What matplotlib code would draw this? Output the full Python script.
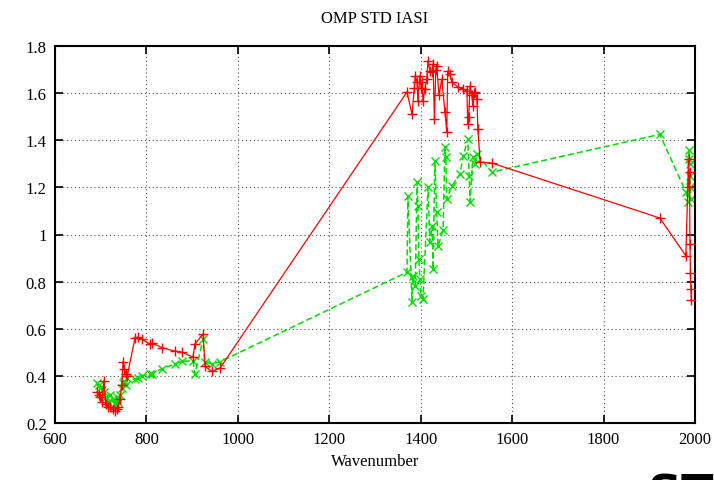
import matplotlib
matplotlib.use("Agg")
import matplotlib.pyplot as plt

# ---- data ----
red_wn = [692, 696, 699, 703, 707, 711, 716, 721, 727, 731, 735, 738, 742, 746, 749, 752, 755, 758,
          775, 782, 790, 808, 812, 834, 862, 878, 902, 906, 924, 928, 943, 961,
          1370, 1381, 1386, 1388, 1392, 1394, 1398, 1401, 1403, 1405, 1409, 1413, 1416, 1420, 1425,
          1427, 1430, 1433, 1435, 1440, 1446, 1453, 1457, 1459, 1464, 1468, 1481, 1493, 1501, 1503,
          1505, 1508, 1512, 1514, 1516, 1519, 1523, 1525, 1530, 1556,
          1923, 1980, 1986, 1987, 1988, 1989, 1990, 1991, 1992]
red_std = [0.33, 0.32, 0.31, 0.29, 0.38, 0.28, 0.27, 0.27, 0.26, 0.25, 0.26, 0.27, 0.30, 0.36, 0.46, 0.43, 0.41, 0.40,
           0.56, 0.565, 0.555, 0.535, 0.54, 0.52, 0.505, 0.50, 0.48, 0.535, 0.578, 0.44, 0.42, 0.433,
           1.605, 1.51, 1.62, 1.673, 1.647, 1.566, 1.673, 1.62, 1.647, 1.566, 1.617, 1.66, 1.737, 1.694, 1.69,
           1.724, 1.49, 1.70, 1.717, 1.59, 1.66, 1.52, 1.435, 1.694, 1.68, 1.647, 1.626, 1.617, 1.61, 1.47,
           1.50, 1.63, 1.59, 1.545, 1.60, 1.605, 1.575, 1.448, 1.307, 1.303,
           1.07, 0.91, 1.32, 1.20, 1.265, 0.96, 0.836, 0.77, 0.72]

green_wn = [692, 696, 699, 703, 707, 711, 716, 721, 727, 731, 735, 738, 742, 746, 749, 752, 755, 758,
            775, 782, 790, 808, 812, 834, 862, 878, 902, 906, 924, 928, 943, 961,
            1370, 1372, 1381, 1383, 1388, 1392, 1394, 1396, 1398, 1401, 1405, 1416, 1420, 1425, 1427,
            1431, 1435, 1438, 1449, 1453, 1455, 1457, 1468, 1486, 1493, 1503, 1506, 1508, 1514, 1519,
            1523, 1556,
            1923, 1980, 1984, 1986, 1987, 1988, 1989, 1990, 1991]
green_std = [0.37, 0.36, 0.35, 0.34, 0.33, 0.31, 0.29, 0.32, 0.30, 0.28, 0.31, 0.29, 0.32, 0.35, 0.37, 0.38, 0.36, 0.39,
             0.385, 0.39, 0.40, 0.408, 0.41, 0.43, 0.45, 0.463, 0.463, 0.408, 0.556, 0.46, 0.45, 0.46,
             0.84, 1.163, 0.713, 0.824, 0.78, 1.223, 1.12, 0.896, 0.81, 0.74, 0.726, 1.20, 0.97, 1.036, 0.853,
             1.31, 1.095, 0.95, 1.02, 1.37, 1.33, 1.15, 1.206, 1.257, 1.333, 1.405, 1.25, 1.14, 1.33, 1.30,
             1.34, 1.265,
             1.425, 1.18, 1.14, 1.36, 1.32, 1.30, 1.25, 1.20, 1.15]

x_ticks = [600, 800, 1000, 1200, 1400, 1600, 1800, 2000]
y_ticks = [0.2, 0.4, 0.6, 0.8, 1.0, 1.2, 1.4, 1.6, 1.8]
y_tick_labels = ["0.2", "0.4", "0.6", "0.8", "1", "1.2", "1.4", "1.6", "1.8"]

serif = ["Liberation Serif", "DejaVu Serif"]

fig = plt.figure(figsize=(7.14, 4.81), dpi=100)
ax = fig.add_axes([55 / 714, 1 - 424 / 481, 640 / 714, 377 / 481])

ax.plot(red_wn, red_std, color="#ff0000", linewidth=0.9, marker="+", markersize=7,
        markeredgewidth=1.0, zorder=3)
ax.plot(green_wn, green_std, color="#00dd00", linewidth=1.1, linestyle=(0, (4, 2)),
        marker="x", markersize=6, markeredgewidth=1.0, zorder=2)

ax.set_xlim(600, 2000)
ax.set_ylim(0.2, 1.8)
ax.set_xticks(x_ticks)
ax.set_xticklabels([str(v) for v in x_ticks], fontfamily=serif, fontsize=12)
ax.set_yticks(y_ticks)
ax.set_yticklabels(y_tick_labels, fontfamily=serif, fontsize=12)
ax.tick_params(direction="in", length=6, width=1.2, top=True, right=True, pad=6)
ax.grid(True, color="#555555", linestyle=(0, (1, 2.5)), linewidth=0.8)
for s in ax.spines.values():
    s.set_linewidth(1.5)

ax.set_title("OMP STD IASI", fontfamily=serif, fontsize=12, pad=17)
ax.set_xlabel("Wavenumber", fontfamily=serif, fontsize=12, labelpad=4)

# cut-off text fragment at bottom-right of the screenshot
fig.text(648 / 714, -0.078, "STI", fontsize=34, fontweight="bold",
         fontfamily=["DejaVu Sans"], ha="left", va="bottom", color="black")

fig.savefig("out.png", dpi=100)
